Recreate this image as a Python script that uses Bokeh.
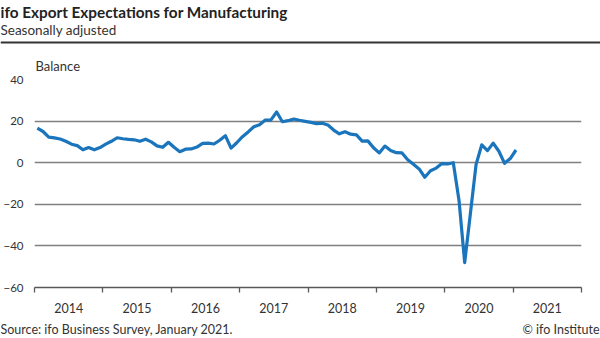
import pandas as pd
from bokeh.plotting import figure
from bokeh.layouts import column
from bokeh.models import Range1d, FixedTicker, Label, BoxAnnotation, ColumnDataSource, Column
from bokeh.embed import file_html
from bokeh.resources import INLINE

# ---- data (monthly balance, Jan 2014 .. Jan 2021) ----
start_month = "2014-01"
balance = [
    16.6, 15.0, 12.3, 11.9, 11.4, 10.3, 8.9, 8.2, 6.2, 7.3, 6.2, 7.3,      # 2014
    8.9, 10.3, 12.0, 11.5, 11.2, 11.0, 10.3, 11.3, 10.0, 8.1, 7.4, 9.8,    # 2015
    7.4, 5.3, 6.5, 6.6, 7.5, 9.3, 9.4, 9.0, 10.8, 13.0, 7.0, 9.6,          # 2016
    12.5, 14.8, 17.3, 18.3, 20.5, 20.6, 24.4, 19.7, 20.2, 21.0, 20.4, 19.9,  # 2017
    19.4, 18.8, 19.0, 18.1, 15.7, 13.9, 14.9, 13.7, 13.4, 10.4, 10.5, 7.2,   # 2018
    4.7, 8.0, 5.9, 4.8, 4.7, 1.4, -0.8, -3.0, -7.0, -3.9, -2.6, -0.4,      # 2019
    -0.6, 0.0, -18.0, -48.0, -24.4, -0.8, 8.6, 5.8, 9.4, 5.5, -0.3, 2.0,   # 2020
    6.1,                                                                   # 2021
]
years = [2014, 2015, 2016, 2017, 2018, 2019, 2020, 2021]
y_ticks = [-60, -40, -20, 0, 20, 40]

title_text = "ifo Export Expectations for Manufacturing"
subtitle_text = "Seasonally adjusted"
unit_text = "Balance"
source_text = "Source: ifo Business Survey, January 2021."
credit_text = "\u00a9 ifo Institute"

dates = pd.period_range(start=start_month, periods=len(balance), freq="M")
xpos = [d.year + (d.month - 0.5) / 12 for d in dates]
src = ColumnDataSource(dict(x=xpos, y=balance))

FONT = "Lato"
TXT = "#333333"


def blank(h):
    f = figure(width=600, height=h, output_backend="svg", toolbar_location=None,
               x_range=Range1d(0, 600), y_range=Range1d(0, h),
               x_axis_type=None, y_axis_type=None, min_border=0)
    f.outline_line_color = None
    f.grid.grid_line_color = None
    f.background_fill_color = "white"
    f.border_fill_color = "white"
    return f


# ---- heading panel (74 px) ----
top = blank(74)
top.add_layout(Label(x=0, y=63, text=title_text, text_font=FONT, text_font_style="bold",
                     text_font_size="15.3px", text_color="#222222", text_baseline="middle"))
top.add_layout(Label(x=0, y=45, text=subtitle_text, text_font=FONT,
                     text_font_size="13.5px", text_color=TXT, text_baseline="middle"))
top.add_layout(BoxAnnotation(left=0, right=600, top=33, bottom=31, fill_color="#333333",
                             fill_alpha=1, line_color=None))
top.add_layout(Label(x=35, y=8.5, text=unit_text, text_font=FONT, text_font_size="13px",
                     text_color=TXT, text_baseline="middle"))

# ---- main chart ----
p = figure(width=600, height=244, output_backend="svg", toolbar_location=None,
           x_range=Range1d(years[0], years[-1] + 1), y_range=Range1d(-60, 40),
           min_border_left=34, min_border_right=19, min_border_top=5, min_border_bottom=31)
p.outline_line_color = None
p.background_fill_color = "white"
p.border_fill_color = "white"

p.line("x", "y", source=src, line_color="#1a75bc", line_width=3.2, line_join="round")

p.yaxis.ticker = FixedTicker(ticks=y_ticks)
p.yaxis.axis_line_color = None
p.yaxis.major_tick_line_color = None
p.yaxis.major_tick_out = 0
p.yaxis.major_tick_in = 0
p.yaxis.minor_tick_line_color = None
p.yaxis.minor_tick_out = 0
p.yaxis.minor_tick_in = 0
p.yaxis.major_label_standoff = 11
p.yaxis.major_label_text_font = FONT
p.yaxis.major_label_text_font_size = "11.5px"
p.yaxis.major_label_text_color = TXT
p.ygrid.ticker = FixedTicker(ticks=y_ticks)
p.ygrid.grid_line_color = "#7f7f7f"
p.ygrid.grid_line_width = 1.3
p.xgrid.grid_line_color = None

p.xaxis.ticker = FixedTicker(ticks=[y + 0.5 for y in years],
                             minor_ticks=years + [years[-1] + 1])
p.xaxis.major_label_overrides = {y + 0.5: str(y) for y in years}
p.xaxis.major_tick_line_color = None
p.xaxis.major_tick_out = 0
p.xaxis.minor_tick_line_color = "#595959"
p.xaxis.minor_tick_line_width = 1.3
p.xaxis.minor_tick_out = 5
p.xaxis.minor_tick_in = 0
p.xaxis.axis_line_color = "#595959"
p.xaxis.axis_line_width = 1.3
p.xaxis.major_label_standoff = 10
p.xaxis.major_label_text_font = FONT
p.xaxis.major_label_text_font_size = "12.5px"
p.xaxis.major_label_text_color = TXT

# ---- footer panel (20 px) ----
bot = blank(20)
bot.add_layout(Label(x=0, y=9, text=source_text, text_font=FONT, text_font_size="12.5px",
                     text_color=TXT, text_baseline="middle"))
bot.add_layout(Label(x=599, y=9, text=credit_text, text_font=FONT, text_align="right",
                     text_font_size="12.5px", text_color=TXT, text_baseline="middle"))

layout = column(Column(children=[top]), p, Column(children=[bot]), spacing=0)
open("out.html", "w").write(file_html(layout, INLINE))
